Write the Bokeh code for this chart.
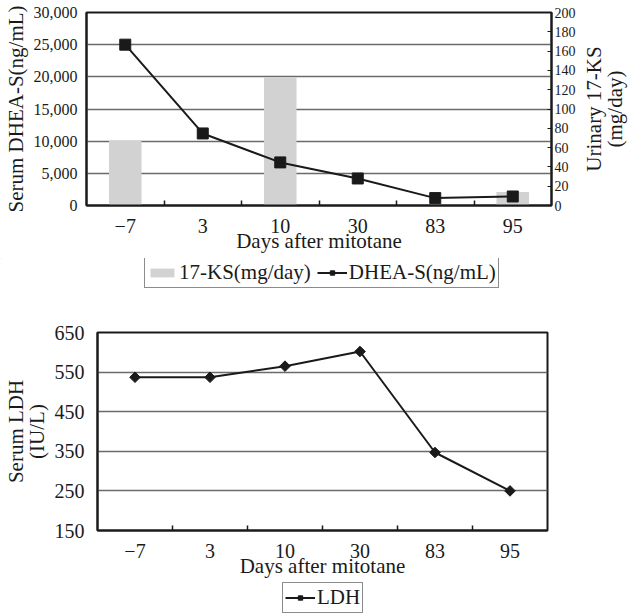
import math
from bokeh.plotting import figure
from bokeh.models import (Range1d, LinearAxis, FixedTicker, NumeralTickFormatter,
                          Legend, LegendItem, ColumnDataSource)
from bokeh.layouts import row
from bokeh.embed import file_html
from bokeh.resources import INLINE

# ---- data ----
days = ["\u22127", "3", "10", "30", "83", "95"]
dhea_s = [25000, 11200, 6700, 4200, 1150, 1400]      # ng/mL (left axis)
ks_17 = [67, 0, 133, 0, 0, 14]                        # mg/day (right axis)
ldh = [537, 537, 565, 602, 347, 250]                  # IU/L

left_ticks = [0, 5000, 10000, 15000, 20000, 25000, 30000]
right_ticks = [0, 20, 40, 60, 80, 100, 120, 140, 160, 180, 200]
ldh_ticks = [150, 250, 350, 450, 550, 650]

FONT = "Liberation Serif"
INK = "#1a1a1a"
GRID = "#6a6a6a"
BAR = "#d2d2d2"

xs = list(range(len(days)))
bounds = [i + 0.5 for i in xs[:-1]]
labels = {i: d for i, d in enumerate(days)}

src1 = ColumnDataSource(dict(x=xs, dhea=dhea_s, ks=ks_17))
src2 = ColumnDataSource(dict(x=xs, ldh=ldh))


def label_only_axis(ax, text, size, standoff):
    ax.ticker = FixedTicker(ticks=[])
    ax.axis_line_color = None
    ax.major_tick_line_color = None
    ax.minor_tick_line_color = None
    ax.major_tick_in = 0
    ax.major_tick_out = 0
    ax.minor_tick_in = 0
    ax.minor_tick_out = 0
    ax.major_label_standoff = 0
    ax.major_label_text_font_size = "0px"
    ax.axis_label = text
    ax.axis_label_text_font = FONT
    ax.axis_label_text_font_style = "normal"
    ax.axis_label_text_color = INK
    ax.axis_label_text_font_size = size
    ax.axis_label_standoff = standoff


def style_common(p):
    p.outline_line_color = INK
    p.outline_line_width = 2
    p.background_fill_color = "white"
    p.border_fill_color = "white"
    p.xgrid.visible = False
    p.ygrid.grid_line_color = GRID
    p.ygrid.grid_line_width = 1.3
    for ax in p.axis:
        ax.axis_line_color = INK
        ax.axis_line_width = 2
        ax.major_label_text_font = FONT
        ax.axis_label_text_font = FONT
        ax.axis_label_text_font_style = "normal"
        ax.major_label_text_color = INK
        ax.axis_label_text_color = INK
    xa = p.xaxis[0]
    xa.ticker = FixedTicker(ticks=xs, minor_ticks=bounds)
    xa.major_label_overrides = labels
    xa.major_tick_line_color = None
    xa.minor_tick_line_color = INK
    xa.minor_tick_line_width = 1.5
    xa.minor_tick_in = 5
    xa.minor_tick_out = 0
    xa.major_label_text_font_size = "20px"
    xa.major_label_standoff = 7
    xa.axis_label = "Days after mitotane"
    xa.axis_label_text_font_size = "21px"
    xa.axis_label_standoff = -7


def legend_strip(height, items_spec, loc):
    """A borderless strip carrying only the legend, placed under a chart.
    Its renderers share the chart's data but the view range keeps them out of sight."""
    f = figure(width=626, height=height, min_border=0,
               x_axis_location=None, y_axis_location=None,
               x_range=Range1d(10, 11), y_range=Range1d(-3, -2),
               output_backend="svg", toolbar_location=None)
    f.outline_line_color = None
    f.background_fill_color = "white"
    f.border_fill_color = "white"
    f.grid.visible = False
    items = []
    for label, kind in items_spec:
        if kind == "bar":
            r = f.vbar(x="x", top="ks", source=src1, width=0.42,
                       fill_color=BAR, line_color=None)
            items.append(LegendItem(label=label, renderers=[r]))
        elif kind == "square":
            r1 = f.line(x="x", y="dhea", source=src1, line_color=INK, line_width=2)
            r2 = f.scatter(x="x", y="dhea", source=src1, marker="square", size=11,
                           fill_color=INK, line_color=INK)
            items.append(LegendItem(label=label, renderers=[r1, r2]))
        else:
            r1 = f.line(x="x", y="ldh", source=src2, line_color=INK, line_width=2)
            r2 = f.scatter(x="x", y="ldh", source=src2, marker="square",
                           angle=math.pi / 4, size=7.5, fill_color=INK, line_color=INK)
            items.append(LegendItem(label=label, renderers=[r1, r2]))
    leg = Legend(items=items, location=loc, orientation="horizontal")
    leg.label_text_font = FONT
    leg.label_text_font_size = "21px"
    leg.label_text_color = INK
    leg.label_height = 19
    leg.glyph_width = 30
    leg.glyph_height = 11
    leg.label_standoff = 2
    leg.spacing = 6
    leg.padding = 2
    leg.margin = 0
    leg.border_line_color = INK
    leg.border_line_width = 1
    leg.background_fill_color = "white"
    leg.background_fill_alpha = 1
    f.add_layout(leg)
    return f


# ---- top chart ----
p1 = figure(width=580, height=258,
            min_border_left=83, min_border_right=29, min_border_top=12, min_border_bottom=53,
            x_range=Range1d(-0.5, len(days) - 0.5), y_range=Range1d(0, 30000),
            output_backend="svg", toolbar_location=None)
p1.extra_y_ranges = {"ks": Range1d(0, 200)}

bars = p1.vbar(x="x", top="ks", width=0.42, source=src1, y_range_name="ks",
               fill_color=BAR, line_color=None)
ln = p1.line(x="x", y="dhea", source=src1, line_color=INK, line_width=2)
sq = p1.scatter(x="x", y="dhea", source=src1, marker="square", size=11,
                fill_color=INK, line_color=INK)

ra = LinearAxis(y_range_name="ks", ticker=FixedTicker(ticks=right_ticks))
p1.add_layout(ra, "right")

style_common(p1)
ya = p1.yaxis[0]
ya.ticker = FixedTicker(ticks=left_ticks)
ya.formatter = NumeralTickFormatter(format="0,0")
ya.major_tick_line_color = None
ya.major_label_text_font_size = "16px"
ya.major_label_standoff = 3
ya.axis_label = "Serum DHEA-S(ng/mL)"
ya.axis_label_text_font_size = "21px"
ya.axis_label_standoff = 3
p1.ygrid.ticker = FixedTicker(ticks=left_ticks[1:-1])

ra.major_tick_line_color = INK
ra.major_tick_in = 4
ra.major_tick_out = 0
ra.major_label_text_font_size = "14px"
ra.major_label_standoff = 3
ra.axis_label = None

# right-hand title of the 17-KS axis (two lines, reading upward)
pr = figure(width=46, height=258, min_border_left=36, min_border_right=0,
            min_border_top=12, min_border_bottom=53,
            x_axis_location=None, y_axis_location="left",
            x_range=Range1d(0, 1), y_range=Range1d(0, 200),
            output_backend="svg", toolbar_location=None)
pr.outline_line_color = None
pr.border_fill_color = "white"
pr.background_fill_color = "white"
pr.grid.visible = False
pr_extra = LinearAxis()
pr.add_layout(pr_extra, "left")
label_only_axis(pr.yaxis[0], "(mg/day)", "21px", 0)
label_only_axis(pr_extra, "Urinary 17-KS", "21px", -6)

leg1 = legend_strip(42, [("17-KS(mg/day)", "bar"), ("DHEA-S(ng/mL)", "square")], (144, 12))

# ---- bottom chart ----
p2 = figure(width=626, height=280,
            min_border_left=95, min_border_right=79, min_border_top=32, min_border_bottom=50,
            x_range=Range1d(-0.5, len(days) - 0.5), y_range=Range1d(150, 650),
            output_backend="svg", toolbar_location=None)
ln2 = p2.line(x="x", y="ldh", source=src2, line_color=INK, line_width=2)
dm = p2.scatter(x="x", y="ldh", source=src2, marker="square", angle=math.pi / 4,
                size=7.5, fill_color=INK, line_color=INK)
la2 = LinearAxis()
p2.add_layout(la2, "left")
style_common(p2)
ya2 = p2.yaxis[0]
ya2.ticker = FixedTicker(ticks=ldh_ticks)
ya2.major_tick_line_color = None
ya2.major_label_text_font_size = "20px"
ya2.major_label_standoff = 7
ya2.axis_label = "(IU/L)"
ya2.axis_label_text_font_size = "21px"
ya2.axis_label_standoff = 3
label_only_axis(la2, "Serum LDH", "21px", -6)
p2.ygrid.ticker = FixedTicker(ticks=ldh_ticks[1:-1])

leg2 = legend_strip(35, [("LDH", "diamond")], (282, 2))

top = row(p1, pr)
open("out.html", "w").write(file_html([top, leg1, p2, leg2], INLINE))
